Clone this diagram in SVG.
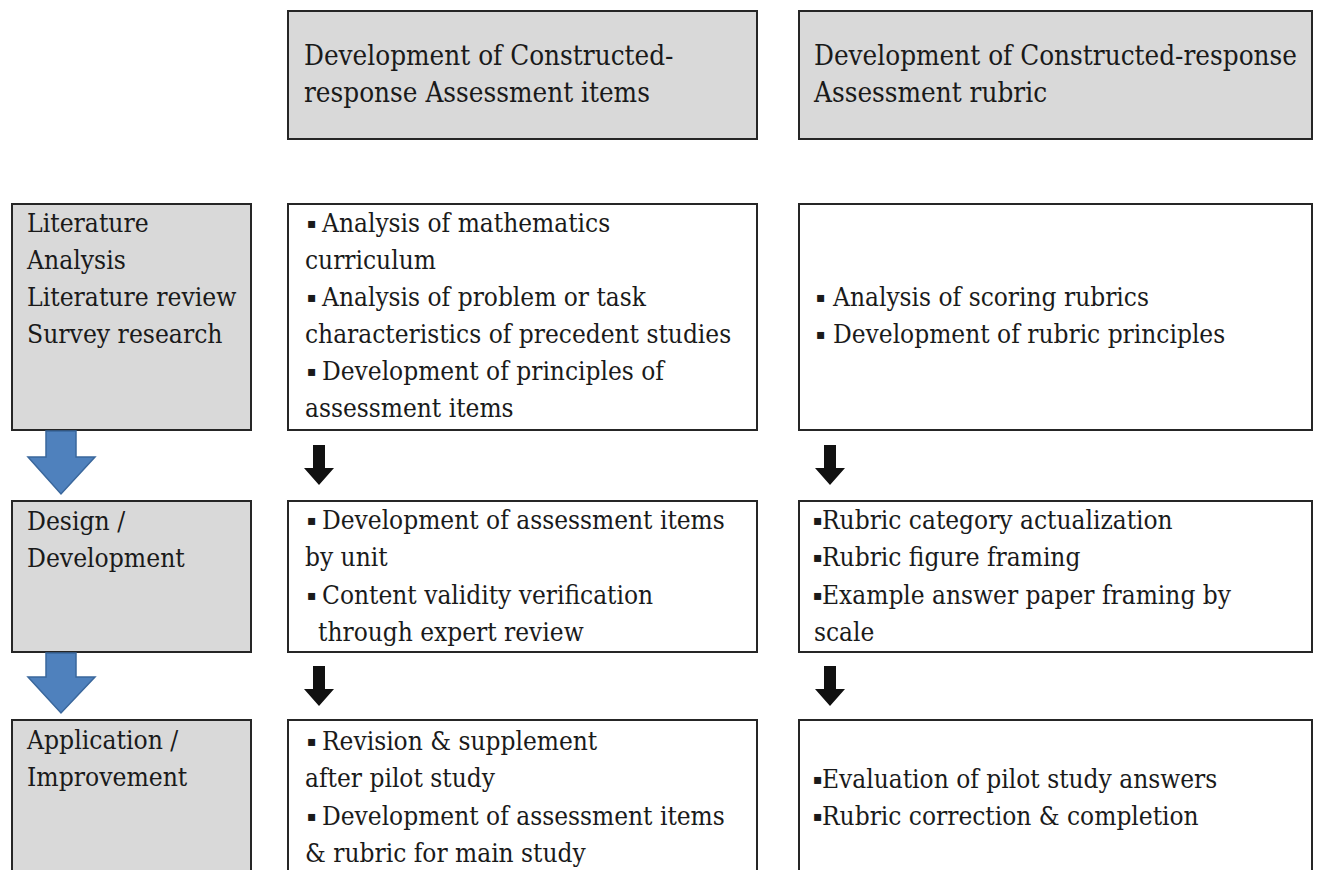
<svg xmlns="http://www.w3.org/2000/svg" width="1319" height="870" viewBox="0 0 1319 870">
<style>
.box{stroke:#262626;stroke-width:2}
.g{fill:#d9d9d9}
.w{fill:#ffffff}
.t{font-family:'DejaVu Serif Condensed','DejaVu Serif',serif;font-stretch:condensed;font-size:26px;fill:#1a1a1a}
.h{font-size:27.6px}
.l{font-size:26.2px}
.b{font-family:'DejaVu Sans',sans-serif;font-stretch:normal;font-size:14px}
.blue{fill:#4f81bd;stroke:#3a679c;stroke-width:1.5;stroke-linejoin:miter}
.blk{fill:#111111}
</style>
<rect width="1319" height="870" fill="#ffffff"/>
<g id="header-items">
<rect class="box g" x="288" y="11" width="469" height="128"/>
<text class="t h"><tspan x="304" y="65">Development of Constructed-</tspan><tspan x="304" y="102">response Assessment items</tspan></text>
</g>
<g id="header-rubric">
<rect class="box g" x="799" y="11" width="513" height="128"/>
<text class="t h"><tspan x="814" y="65">Development of Constructed-response</tspan><tspan x="814" y="102">Assessment rubric</tspan></text>
</g>
<g id="stage-literature">
<rect class="box g" x="12" y="204" width="239" height="226"/>
<text class="t l"><tspan x="27" y="232">Literature</tspan><tspan x="27" y="269">Analysis</tspan><tspan x="27" y="306">Literature review</tspan><tspan x="27" y="343">Survey research</tspan></text>
</g>
<g id="stage-design">
<rect class="box g" x="12" y="501" width="239" height="151"/>
<text class="t l"><tspan x="27" y="530">Design /</tspan><tspan x="27" y="567">Development</tspan></text>
</g>
<g id="stage-application">
<rect class="box g" x="12" y="720" width="239" height="160"/>
<text class="t l"><tspan x="27" y="749">Application /</tspan><tspan x="27" y="786">Improvement</tspan></text>
</g>
<g id="items-literature">
<rect class="box w" x="288" y="204" width="469" height="226"/>
<text class="t"><tspan x="307" y="228" class="b">▪</tspan><tspan x="322" y="232">Analysis of mathematics</tspan><tspan x="305" y="269">curriculum</tspan><tspan x="307" y="302" class="b">▪</tspan><tspan x="322" y="306">Analysis of problem or task</tspan><tspan x="305" y="343">characteristics of precedent studies</tspan><tspan x="307" y="376" class="b">▪</tspan><tspan x="322" y="380">Development of principles of</tspan><tspan x="305" y="417">assessment items</tspan></text>
</g>
<g id="rubric-literature">
<rect class="box w" x="799" y="204" width="513" height="226"/>
<text class="t"><tspan x="816" y="302" class="b">▪</tspan><tspan x="833" y="306">Analysis of scoring rubrics</tspan><tspan x="816" y="339" class="b">▪</tspan><tspan x="833" y="343">Development of rubric principles</tspan></text>
</g>
<g id="items-design">
<rect class="box w" x="288" y="501" width="469" height="151"/>
<text class="t"><tspan x="307" y="525" class="b">▪</tspan><tspan x="322" y="529">Development of assessment items</tspan><tspan x="305" y="566">by unit</tspan><tspan x="307" y="600" class="b">▪</tspan><tspan x="322" y="604">Content validity verification</tspan><tspan x="318" y="641">through expert review</tspan></text>
</g>
<g id="rubric-design">
<rect class="box w" x="799" y="501" width="513" height="151"/>
<text class="t"><tspan x="813" y="525" class="b">▪</tspan><tspan x="822" y="529">Rubric category actualization</tspan><tspan x="813" y="562" class="b">▪</tspan><tspan x="822" y="566">Rubric figure framing</tspan><tspan x="813" y="600" class="b">▪</tspan><tspan x="822" y="604">Example answer paper framing by</tspan><tspan x="814" y="641">scale</tspan></text>
</g>
<g id="items-application">
<rect class="box w" x="288" y="720" width="469" height="160"/>
<text class="t"><tspan x="307" y="746" class="b">▪</tspan><tspan x="322" y="750">Revision &amp; supplement</tspan><tspan x="305" y="787">after pilot study</tspan><tspan x="307" y="821" class="b">▪</tspan><tspan x="322" y="825">Development of assessment items</tspan><tspan x="305" y="862">&amp; rubric for main study</tspan></text>
</g>
<g id="rubric-application">
<rect class="box w" x="799" y="720" width="513" height="160"/>
<text class="t"><tspan x="813" y="784" class="b">▪</tspan><tspan x="822" y="788">Evaluation of pilot study answers</tspan><tspan x="813" y="821" class="b">▪</tspan><tspan x="822" y="825">Rubric correction &amp; completion</tspan></text>
</g>
<g id="connectors">
<polygon class="blue" points="46,431 76,431 76,457 95,457 61,494 28,457 46,457"/>
<polygon class="blue" points="46,653 76,653 76,677 95,677 61,713 28,677 46,677"/>
<polygon class="blk" points="313,445 325,445 325,468 334,468 319,485 304,468 313,468"/>
<polygon class="blk" points="824,445 836,445 836,468 845,468 830,485 815,468 824,468"/>
<polygon class="blk" points="313,666 325,666 325,689 334,689 319,706 304,689 313,689"/>
<polygon class="blk" points="824,666 836,666 836,689 845,689 830,706 815,689 824,689"/>
</g>
</svg>
